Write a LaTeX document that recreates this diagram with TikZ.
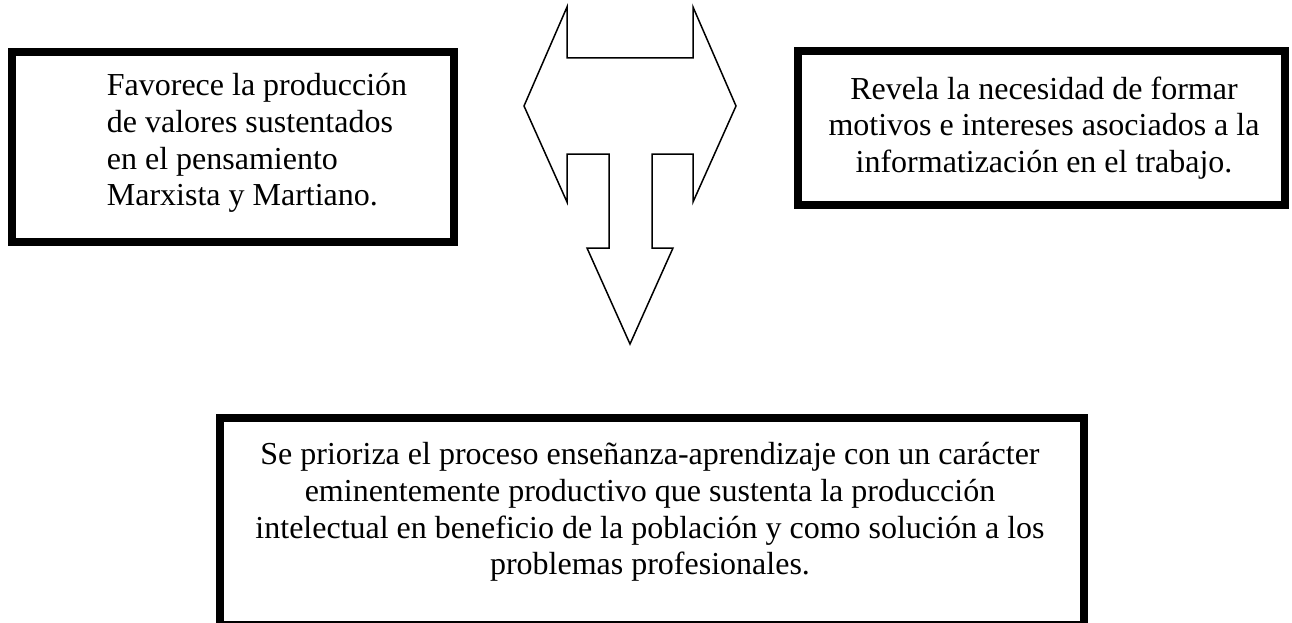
\documentclass[tikz,border=0pt]{standalone}
\usepackage{fontspec}
\setmainfont{Liberation Serif}
\begin{document}
\begin{tikzpicture}[x=1pt,y=-1pt,
  thickbox/.style={draw=black, line width=8pt, fill=white, inner sep=0pt, rectangle},
  boxtext/.style={font=\fontsize{32}{36.8}\selectfont, inner sep=0pt},
  arrowshape/.style={draw=black, line width=1.5pt, line join=miter, fill=white}]
\useasboundingbox (0,0) rectangle (1292,623);
% boxes
\node[thickbox, minimum width=442pt, minimum height=190pt] (left) at (233,147) {};
\node[thickbox, minimum width=487pt, minimum height=154pt] (right) at (1041.5,128) {};
\node[thickbox, minimum width=864pt, minimum height=207pt] (bottom) at (652,521.5) {};
% texts
\node[boxtext, align=left] (lt) at (257,143) {Favorece la producción\\de valores sustentados\\en el pensamiento\\Marxista y Martiano.};
\node[boxtext, align=center] (rt) at (1044,128) {Revela la necesidad de formar\\motivos e intereses asociados a la\\informatización en el trabajo.};
\node[boxtext, align=center] (bt) at (650,512) {Se prioriza el proceso enseñanza-aprendizaje con un carácter\\eminentemente productivo que sustenta la producción\\intelectual en beneficio de la población y como solución a los\\problemas profesionales.};
% arrow shape
\draw[arrowshape] (567,7) -- (567,58) -- (693,58) -- (693,7) -- (736,106) -- (693,202)
  -- (693,154) -- (652,154) -- (652,248) -- (673,248) -- (630,344) -- (587,248)
  -- (609,248) -- (609,154) -- (567,154) -- (567,202) -- (524,106) -- cycle;
\end{tikzpicture}
\end{document}
